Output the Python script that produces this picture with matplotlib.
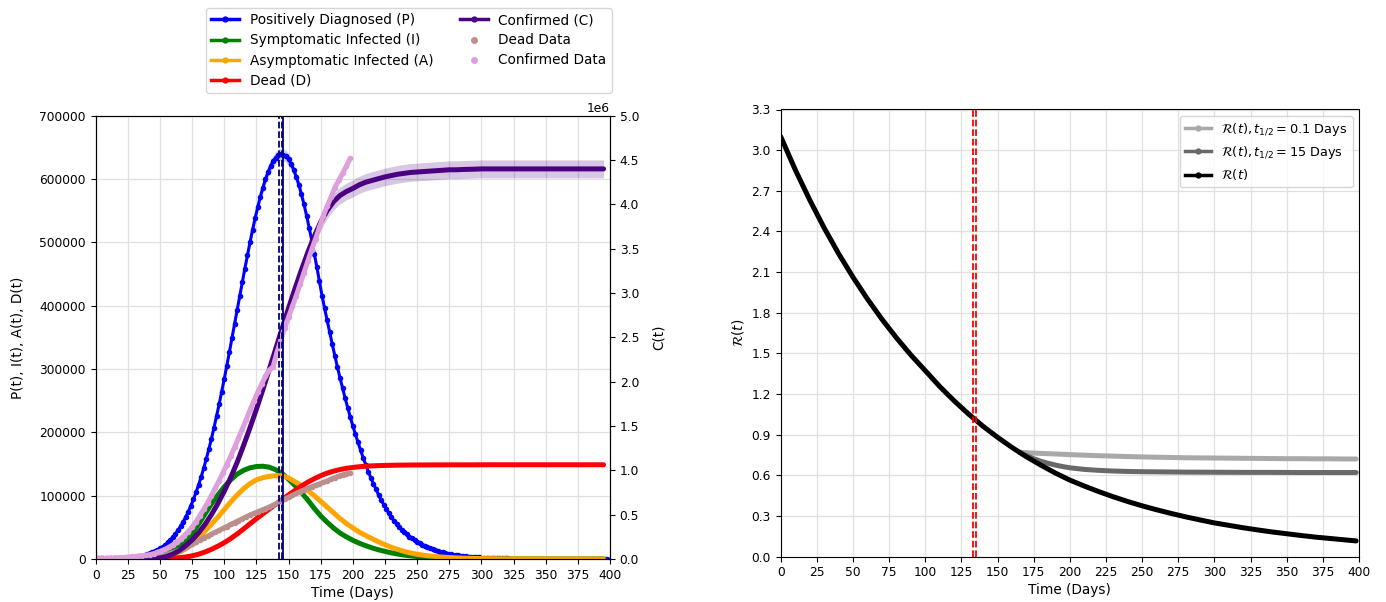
import numpy as np
import matplotlib
matplotlib.use("Agg")
import matplotlib.pyplot as plt
from matplotlib.lines import Line2D

# ---- model curves, left panel ----
# positively diagnosed P(t), thousands, every 2 days (0..398)
days_p = np.arange(0, 399, 2)
P_k = [1.0, 1.0, 1.0, 1.1, 1.1, 1.2, 1.2, 1.3, 1.4, 1.5,
       1.6, 1.8, 2.0, 2.3, 2.7, 3.1, 3.7, 4.4, 5.2, 6.2,
       7.4, 8.8, 10.4, 12.2, 14.3, 16.7, 19.4, 22.6, 26.1, 30.1,
       34.7, 39.7, 45.4, 51.7, 58.6, 66.3, 74.8, 84.0, 94.1, 105.1,
       116.9, 129.7, 143.3, 158.0, 173.5, 190.0, 207.3, 225.5, 244.4, 264.2,
       284.5, 305.5, 327.0, 348.7, 370.7, 393.0, 415.0, 437.0, 458.6, 479.6,
       500.0, 519.7, 538.2, 555.6, 571.8, 586.4, 599.5, 610.9, 620.4, 628.1,
       633.7, 637.4, 638.9, 638.5, 635.8, 630.9, 623.6, 614.5, 603.5, 590.6,
       576.0, 559.8, 542.2, 523.2, 503.3, 482.4, 460.8, 438.6, 416.0, 396.0,
       377, 358, 339, 321, 303, 286, 270, 254, 239, 224,
       210, 197, 184, 172, 160, 149, 138, 128, 119, 110,
       101, 93, 86, 79, 72, 66, 60.5, 55.5, 51, 46.5,
       42.5, 39, 35.5, 32.5, 29.5, 27, 24.5, 22.3, 20.3, 18.5,
       16.8, 15.3, 13.9, 12.6, 11.4, 10.3, 9.3, 8.4, 7.6, 6.9,
       6.2, 5.6, 5.0, 4.5, 4.1, 3.7, 3.3, 3.0, 2.7, 2.4,
       2.1, 1.9, 1.7, 1.6, 1.4, 1.3, 1.2, 1.1, 1.0, 0.9,
       0.8, 0.7, 0.65, 0.6, 0.55, 0.5, 0.45, 0.4, 0.37, 0.34,
       0.31, 0.28, 0.26, 0.24, 0.22, 0.2, 0.18, 0.17, 0.15, 0.14,
       0.13, 0.12, 0.11, 0.1, 0.09, 0.08, 0.08, 0.07, 0.07, 0.06,
       0.06, 0.05, 0.05, 0.05, 0.04, 0.04, 0.04, 0.03, 0.03, 0.03]

# the other model curves every 5 days (0..395)
days_m = np.arange(0, 400, 5)
I_k = [0.2, 0.2, 0.2, 0.3, 0.3, 0.4, 0.6, 0.9, 1.4, 2.5,
       4.2, 7.5, 12.5, 19.5, 28, 40, 55, 71, 87, 101,
       114, 125, 134, 140, 144, 146, 146.5, 145, 141, 135,
       126, 116, 105, 93, 80, 68, 58, 49, 41, 35,
       29.5, 25, 21, 17.5, 14.5, 12, 9.7, 7.8, 6.2, 4.9,
       3.8, 3.0, 2.3, 1.8, 1.4, 1.1, 0.8, 0.6, 0.5, 0.4,
       0.3, 0.25, 0.2, 0.17, 0.14, 0.12, 0.1, 0.08, 0.07, 0.06,
       0.05, 0.04, 0.04, 0.03, 0.03, 0.02, 0.02, 0.02, 0.01, 0.01]
A_k = [0.2, 0.2, 0.2, 0.2, 0.3, 0.3, 0.4, 0.6, 0.9, 1.5,
       2.5, 4.3, 7, 10.8, 16, 23.5, 33, 44, 55, 66,
       78, 90, 101, 111, 119, 125, 128.5, 130.5, 131.5, 131.5,
       128, 122, 116, 108, 100, 91, 82, 73, 64, 56,
       49, 42.5, 37, 32, 27, 22.5, 18.5, 15, 12, 9.5,
       7.5, 6, 4.7, 3.7, 2.9, 2.3, 1.8, 1.4, 1.1, 0.9,
       0.7, 0.55, 0.45, 0.35, 0.3, 0.25, 0.2, 0.16, 0.13, 0.1,
       0.08, 0.07, 0.06, 0.05, 0.04, 0.03, 0.03, 0.02, 0.02, 0.02]
D_k = [0, 0, 0, 0, 0, 0.05, 0.1, 0.15, 0.25, 0.4,
       0.6, 0.9, 1.3, 2.1, 3.2, 5.0, 7.6, 11, 15.3, 20.2,
       25.8, 32.3, 39.6, 47.4, 55.6, 63.6, 71.3, 78.9, 86.4, 93.9,
       101.2, 108.4, 115.2, 121.4, 126.8, 131.6, 135.6, 138.8, 141.3, 143.2,
       144.6, 145.7, 146.5, 147.1, 147.5, 147.8, 148.0, 148.2, 148.3, 148.4,
       148.5, 148.5, 148.6, 148.6, 148.6, 148.7, 148.7, 148.7, 148.7, 148.7,
       148.8, 148.8, 148.8, 148.8, 148.8, 148.8, 148.8, 148.8, 148.8, 148.8,
       148.8, 148.8, 148.8, 148.8, 148.8, 148.8, 148.8, 148.8, 148.8, 148.8]
# confirmed C(t), millions
C_m = [0.0, 0.0, 0.0, 0.001, 0.001, 0.002, 0.002, 0.003, 0.004, 0.006,
       0.012, 0.028, 0.055, 0.095, 0.15, 0.215, 0.295, 0.39, 0.50, 0.625,
       0.765, 0.92, 1.09, 1.28, 1.48, 1.69, 1.91, 2.14, 2.37, 2.60,
       2.83, 3.05, 3.26, 3.46, 3.64, 3.80, 3.93, 4.03, 4.10, 4.145,
       4.18, 4.22, 4.25, 4.27, 4.29, 4.31, 4.325, 4.34, 4.35, 4.36,
       4.365, 4.37, 4.375, 4.38, 4.385, 4.39, 4.39, 4.393, 4.395, 4.397,
       4.4, 4.4, 4.4, 4.4, 4.4, 4.4, 4.4, 4.4, 4.4, 4.4,
       4.4, 4.4, 4.4, 4.4, 4.4, 4.4, 4.4, 4.4, 4.4, 4.4]

# ---- observed data every 3 days (0..198) ----
days_d = np.arange(0, 199, 3)
dead_data_k = [0.0, 0.0, 0.0, 0.0, 0.01, 0.02, 0.03, 0.05, 0.08, 0.12,
               0.2, 0.3, 0.6, 1.0, 1.5, 2.3, 3.2, 4.5, 6.2, 8.2,
               10.2, 12.2, 14.6, 17.2, 20, 23, 26.5, 30, 33, 36,
               39.3, 42.3, 45.3, 48.3, 51.3, 54.5, 57.5, 60.5, 63.5, 66.5,
               69.5, 72, 74.5, 77, 79.5, 82, 85, 88, 91, 94.5,
               97.5, 100.5, 103.5, 106.5, 109, 111.5, 114, 116.3, 118.5, 121,
               123.3, 126, 128.5, 130.7, 132.8, 134.5, 136]
conf_data_m = [0.003, 0.004, 0.005, 0.006, 0.008, 0.010, 0.013, 0.016, 0.02, 0.025,
               0.028, 0.032, 0.037, 0.043, 0.05, 0.06, 0.075, 0.092, 0.11, 0.133,
               0.16, 0.19, 0.225, 0.265, 0.31, 0.36, 0.42, 0.49, 0.56, 0.635,
               0.715, 0.80, 0.885, 0.975, 1.065, 1.16, 1.26, 1.36, 1.465, 1.57,
               1.68, 1.78, 1.88, 1.97, 2.06, 2.13, 2.17, 2.33, 2.47, 2.61,
               2.73, 2.85, 2.97, 3.10, 3.23, 3.36, 3.49, 3.61, 3.74, 3.87,
               3.98, 4.08, 4.19, 4.27, 4.35, 4.43, 4.52]

peak_lines = [142.7, 145.2]      # navy markers around the peak of P
p_band = 0.015                   # relative width of shaded bands
c_band = 0.023

# ---- right panel, R(t) ----
days_r = list(range(0, 400, 10)) + [398]
R_t = [3.10, 2.857, 2.634, 2.427, 2.237, 2.062, 1.901, 1.752, 1.615, 1.488,
       1.372, 1.255, 1.149, 1.051, 0.961, 0.880, 0.805, 0.736, 0.674, 0.616,
       0.564, 0.520, 0.479, 0.441, 0.406, 0.374, 0.345, 0.318, 0.293, 0.270,
       0.248, 0.230, 0.212, 0.196, 0.181, 0.168, 0.155, 0.143, 0.133, 0.123,
       0.115]
days_h01 = [165, 170, 180, 190, 200, 210, 220, 230, 240, 250, 260, 270, 280,
            290, 300, 310, 320, 330, 340, 350, 360, 370, 380, 390, 398]
R_h01 = [0.77, 0.766, 0.761, 0.757, 0.752, 0.748, 0.744, 0.741, 0.738, 0.735,
         0.733, 0.731, 0.729, 0.728, 0.727, 0.726, 0.725, 0.724, 0.723, 0.722,
         0.722, 0.721, 0.721, 0.72, 0.72]
days_h15 = [165, 170, 175, 180, 185, 190, 195, 200, 210, 220, 230, 240, 250,
            260, 270, 280, 300, 320, 340, 360, 380, 398]
R_h15 = [0.77, 0.745, 0.722, 0.703, 0.688, 0.675, 0.664, 0.655, 0.643, 0.636,
         0.631, 0.628, 0.626, 0.625, 0.624, 0.623, 0.622, 0.621, 0.621, 0.62,
         0.62, 0.62]
r_lines = [132.8, 135.3]

# colours
c_P, c_I, c_A, c_D, c_C = "blue", "green", "orange", "red", "indigo"
c_dd, c_cd = "rosybrown", "plum"

tick_fs = 8.8
lab_fs = 9.8
lw_thick = 3.6

fig = plt.figure(figsize=(13.86, 6.02), dpi=100)

# left panel
ax = fig.add_axes([95.7 / 1386, 1 - 559 / 602, 514.3 / 1386, 443.3 / 602])
ax2 = ax.twinx()

P = np.array(P_k) * 1000
ax.fill_between(days_p, P * (1 - p_band), P * (1 + p_band), color=c_P, alpha=0.2, lw=0)
ax.plot(days_p, P, color=c_P, lw=2.2, marker="o", ms=4, mew=0)
ax.plot(days_m, np.array(I_k) * 1000, color=c_I, lw=lw_thick, solid_capstyle="round")
ax.plot(days_m, np.array(A_k) * 1000, color=c_A, lw=lw_thick, solid_capstyle="round")
ax.plot(days_m, np.array(D_k) * 1000, color=c_D, lw=lw_thick, solid_capstyle="round")
ax.plot(days_d, np.array(dead_data_k) * 1000, color=c_dd, lw=lw_thick,
        solid_capstyle="round", marker="o", ms=4, mew=0)

C = np.array(C_m) * 1e6
ax2.fill_between(days_m, C * (1 - c_band), C * (1 + c_band), color=c_C, alpha=0.22, lw=0)
ax2.plot(days_m, C, color=c_C, lw=lw_thick, solid_capstyle="round")
ax2.plot(days_d, np.array(conf_data_m) * 1e6, color=c_cd, lw=lw_thick,
         solid_capstyle="round", marker="o", ms=4, mew=0)
ax2.axvline(peak_lines[0], color="navy", ls="--", lw=1.3)
ax2.axvline(peak_lines[1], color="navy", ls="--", lw=1.3)
ax2.axvline(peak_lines[1] + 0.6, color="navy", ls="-", lw=1.3)

ax.set_xlim(0, 400)
ax.set_xticks(np.arange(0, 401, 25))
ax.set_ylim(0, 700000)
ax.set_yticks(np.arange(0, 700001, 100000))
ax2.set_ylim(0, 5e6)
ax2.set_yticks(np.arange(0, 5.01e6, 0.5e6))
ax.grid(True, color="0.88", lw=0.9)
ax.set_axisbelow(True)
ax.tick_params(labelsize=tick_fs)
ax2.tick_params(labelsize=tick_fs)
ax2.yaxis.get_offset_text().set_fontsize(tick_fs)
ax.set_xlabel("Time (Days)", fontsize=lab_fs, labelpad=3)
ax.set_ylabel("P(t), I(t), A(t), D(t)", fontsize=lab_fs, labelpad=10)
ax2.set_ylabel("C(t)", fontsize=lab_fs, labelpad=9)

handles = [Line2D([], [], color=c, lw=2.5, marker="o", ms=3.5) for c in (c_P, c_I, c_A, c_D, c_C)]
handles += [Line2D([], [], color=c, ls="none", marker="o", ms=4) for c in (c_dd, c_cd)]
labels = ["Positively Diagnosed (P)", "Symptomatic Infected (I)", "Asymptomatic Infected (A)",
          "Dead (D)", "Confirmed (C)", "Dead Data", "Confirmed Data"]
fig.legend(handles, labels, loc="upper center", bbox_to_anchor=(409 / 1386, 1 - 1 / 602),
           ncol=2, fontsize=lab_fs, labelspacing=0.45)

# right panel
axr = fig.add_axes([780.7 / 1386, 1 - 556.5 / 602, 578.3 / 1386, 447 / 602])
axr.plot(days_h01, R_h01, color="darkgray", lw=lw_thick, solid_capstyle="round")
axr.plot(days_h15, R_h15, color="dimgray", lw=lw_thick, solid_capstyle="round")
axr.plot(days_r, R_t, color="black", lw=lw_thick, solid_capstyle="round")
for d in r_lines:
    axr.axvline(d, color="red", ls="--", lw=1.3)
axr.set_xlim(0, 400)
axr.set_xticks(np.arange(0, 401, 25))
axr.set_ylim(0, 3.3)
axr.set_yticks(np.round(np.arange(0, 3.31, 0.3), 1))
axr.grid(True, color="0.88", lw=0.9)
axr.set_axisbelow(True)
axr.tick_params(labelsize=tick_fs)
axr.set_xlabel("Time (Days)", fontsize=lab_fs, labelpad=3)
axr.set_ylabel(r"$\mathcal{R}(t)$", fontsize=lab_fs)

r_handles = [Line2D([], [], color=c, lw=2.5, marker="o", ms=3.5) for c in ("darkgray", "dimgray", "black")]
r_labels = [r"$\mathcal{R}(t), t_{1/2} = 0.1$ Days", r"$\mathcal{R}(t), t_{1/2} = 15$ Days",
            r"$\mathcal{R}(t)$"]
axr.legend(r_handles, r_labels, loc="upper right", fontsize=9.3)

fig.savefig("out.png", dpi=100)
